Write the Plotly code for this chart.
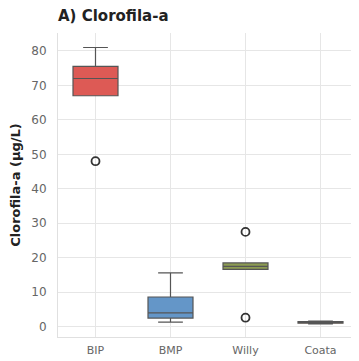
import plotly.graph_objects as go

sites = ["BIP", "BMP", "Willy", "Coata"]
q1 = [67.0, 2.5, 16.6, 1.0]
median = [72.0, 4.0, 17.5, 1.2]
q3 = [75.5, 8.6, 18.5, 1.5]
lower = [67.0, 1.3, 16.6, 0.8]
upper = [81.0, 15.6, 18.5, 1.6]
outlier_site = ["BIP", "Willy", "Willy"]
outlier_val = [48.0, 27.5, 2.6]
colors = ["#dd5a55", "#6496c8", "#8c9b52", "#e8955a"]

W, H = 351, 353  # page has an 8px body margin

fig = go.Figure()
for i, s in enumerate(sites):
    fig.add_trace(go.Box(
        x=[s], q1=[q1[i]], median=[median[i]], q3=[q3[i]],
        lowerfence=[lower[i]], upperfence=[upper[i]],
        fillcolor=colors[i], line=dict(color="#555555", width=1.2),
        width=0.6, whiskerwidth=0.55, boxpoints=False, showlegend=False,
    ))
fig.add_trace(go.Scatter(
    x=outlier_site, y=outlier_val, mode="markers",
    marker=dict(symbol="circle-open", size=8, color="#333333", line=dict(width=1.8)),
    showlegend=False,
))

fig.update_layout(
    width=W, height=H,
    margin=dict(l=50, r=1, t=25, b=24, autoexpand=False),
    paper_bgcolor="white", plot_bgcolor="white",
    font=dict(family="DejaVu Sans", color="#666666", size=11),
    title=dict(text="<b>A) Clorofila-a</b>", x=50/W, xanchor="left", y=1 - 8/H, yanchor="middle",
               font=dict(size=15, color="#222222")),
    xaxis=dict(categoryorder="array", categoryarray=sites, range=[-0.5, 3.5], automargin=False,
               showgrid=True, gridcolor="#e6e6e6", showline=True, linecolor="#e0e0e0",
               ticks="outside", ticklen=3, tickcolor="rgba(0,0,0,0)",
               tickfont=dict(size=11, color="#666666")),
    yaxis=dict(range=[-3, 85.2], tickvals=[0, 10, 20, 30, 40, 50, 60, 70, 80], automargin=False,
               showgrid=True, gridcolor="#e6e6e6", zeroline=False, showline=True, linecolor="#e0e0e0",
               ticks="outside", ticklen=8, tickcolor="rgba(0,0,0,0)",
               title=dict(text="<b>Clorofila-a (µg/L)</b>", font=dict(size=13, color="#222222")),
               tickfont=dict(size=12, color="#666666")),
)
fig.write_html("out.html")
